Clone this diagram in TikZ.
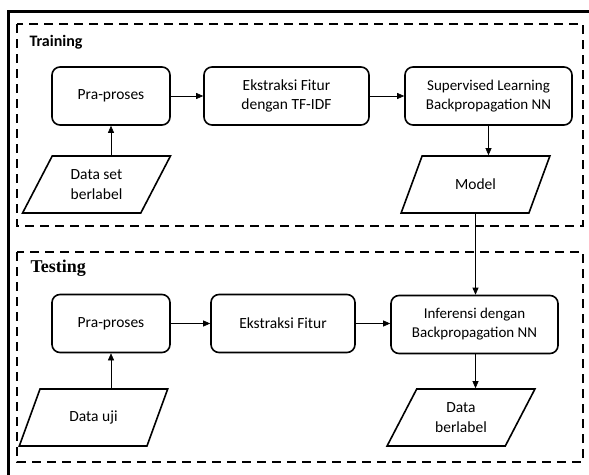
\documentclass[tikz,border=0pt]{standalone}
\usepackage{fontspec}
\setmainfont{Carlito}
\newfontfamily\judulserif{Liberation Serif}
\usetikzlibrary{arrows.meta,shapes.geometric}

\begin{document}
\begin{tikzpicture}[x=1pt,y=-1pt,
  proses/.style={draw,line width=1.6pt,rounded corners=8pt,align=center,
    minimum height=58pt,font=\fontsize{15.5}{19.5}\selectfont},
  datanode/.style={draw,line width=1.6pt,trapezium,trapezium left angle=62,
    trapezium right angle=118,trapezium stretches=true,minimum width=149pt,
    minimum height=57pt,align=center,font=\fontsize{15.5}{20}\selectfont},
  panah/.style={-{Triangle[length=7pt,width=6pt]},line width=0.6pt},
  fase/.style={line width=1.6pt,dash pattern=on 9pt off 6pt}]
  \useasboundingbox (0,0) rectangle (589,474);

  % frames
  \draw[line width=3pt] (8,490) -- (8,11.5) -- (600,11.5);
  \draw[fase] (17,24) rectangle (583,226);
  \draw[fase] (17,252) rectangle (583,462);
  \node[anchor=west,font=\bfseries\fontsize{16}{19}\selectfont] (jdtrain) at (26,42) {Training};
  \node[anchor=west,font=\judulserif\bfseries\fontsize{18}{21}\selectfont] (jdtest) at (27,268) {Testing};

  % training
  \node[proses,minimum width=118pt] (trpra) at (111,96) {Pra-proses};
  \node[proses,minimum width=165pt] (trfitur) at (286.5,96) {Ekstraksi Fitur\\dengan TF-IDF};
  \node[proses,minimum width=167pt,font=\fontsize{15}{19}\selectfont] (trnn) at (488.5,96) {Supervised Learning\\Backpropagation NN};
  \node[datanode] (trdata) at (96.5,184.5) {Data set\\berlabel};
  \node[datanode] (trmodel) at (475.5,184.5) {Model};

  % testing
  \node[proses,minimum width=118pt] (tspra) at (111,323.5) {Pra-proses};
  \node[proses,minimum width=144pt] (tsfitur) at (283,323.5) {Ekstraksi Fitur};
  \node[proses,minimum width=167pt,font=\fontsize{15}{19}\selectfont] (tsnn) at (474.5,324.5) {Inferensi dengan\\Backpropagation NN};
  \node[datanode] (tsdata) at (93.5,417.5) {Data uji};
  \node[datanode] (tshasil) at (461,417.5) {Data\\berlabel};

  % arrows
  \draw[panah] (trpra.east) -- (trfitur.west);
  \draw[panah] (trfitur.east) -- (trnn.west);
  \draw[panah] (trpra.south |- trdata.north) -- (trpra.south);
  \draw[panah] (trnn.south) -- (trnn.south |- trmodel.north);
  \draw[panah] (trmodel.south) -- (trmodel.south |- tsnn.north);
  \draw[panah] (tspra.east) -- (tsfitur.west);
  \draw[panah] (tsfitur.east) -- (tsfitur.east -| tsnn.west);
  \draw[panah] (tspra.south |- tsdata.north) -- (tspra.south);
  \draw[panah] (tsnn.south -| trmodel.south) -- (trmodel.south |- tshasil.north);
\end{tikzpicture}
\end{document}
